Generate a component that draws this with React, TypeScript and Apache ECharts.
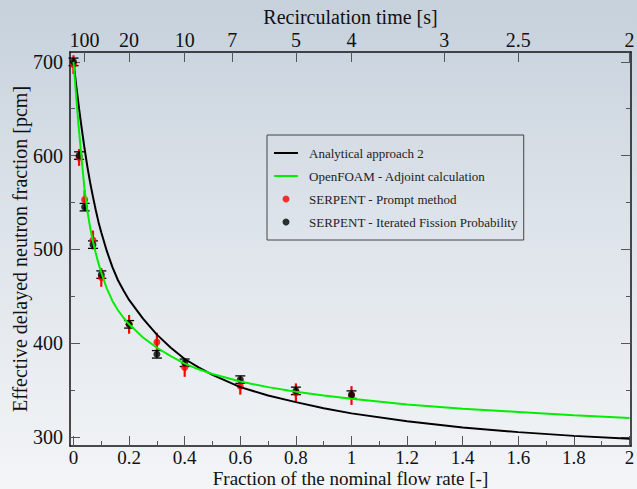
import React, { useEffect, useRef } from 'react';
import * as echarts from 'echarts';

const FONT = 'Liberation Serif, Times New Roman, serif';

// Monte Carlo points (fraction of nominal flow rate)
const fractions = [0, 0.02, 0.04, 0.07, 0.1, 0.2, 0.3, 0.4, 0.6, 0.8, 1.0];
const promptBeta = [697, 598, 553, 510, 470, 420, 401, 374, 354, 347, 344];
const promptErr = [10, 9, 10, 10, 10, 10, 10, 10, 9, 10, 10];
const ifpBeta = [700, 600, 545, 505, 473, 420, 388, 379, 361, 349, 345];
const ifpErr = [4, 4, 4, 4, 4, 4, 4, 4, 4, 4, 4];

// Analytical approach 2 (black curve)
const analyticX = [0, 0.01, 0.02, 0.03, 0.04, 0.05, 0.06, 0.07, 0.08, 0.09, 0.1, 0.12, 0.14, 0.16, 0.18, 0.2, 0.25, 0.3, 0.35, 0.4, 0.45, 0.5, 0.6, 0.7, 0.8, 0.9, 1.0, 1.2, 1.4, 1.6, 1.8, 2.0];
const analyticY = [700, 674, 650, 628, 607, 588, 571, 556, 542, 529, 518, 498, 481, 467, 456, 446, 426, 409, 395, 383, 374, 366, 353, 344, 337, 330.5, 325, 316.5, 310, 305, 301, 298];

// OpenFOAM adjoint (green curve)
const foamX = [0, 0.01, 0.02, 0.03, 0.04, 0.05, 0.06, 0.07, 0.08, 0.09, 0.1, 0.12, 0.14, 0.16, 0.18, 0.2, 0.25, 0.3, 0.35, 0.4, 0.45, 0.5, 0.6, 0.7, 0.8, 0.9, 1.0, 1.2, 1.4, 1.6, 1.8, 2.0];
const foamY = [700, 662, 626, 594, 563, 541, 523, 508, 496, 485, 475, 458, 445, 435, 427, 420, 406, 395, 386, 378, 372, 367, 359, 353, 348, 344, 340.5, 334.5, 330, 326.5, 323, 320];

// Axis ticks
const xMajorTicks = [0, 0.2, 0.4, 0.6, 0.8, 1, 1.2, 1.4, 1.6, 1.8, 2];
const xMajorLabels = ['0', '0.2', '0.4', '0.6', '0.8', '1', '1.2', '1.4', '1.6', '1.8', '2'];
const xMinorTicks = [0.1, 0.3, 0.5, 0.7, 0.9, 1.1, 1.3, 1.5, 1.7, 1.9];
const yMajorTicks = [300, 400, 500, 600, 700];
const yMinorTicks = [350, 450, 550, 650];
const recircTimes = [100, 20, 10, 7, 5, 4, 3, 2.5, 2];
const recircLabels = ['100', '20', '10', '7', '5', '4', '3', '2.5', '2'];
const recircConst = 4; // fraction = 4 s / recirculation time

const X_MIN = -0.0126, X_MAX = 2.0054, Y_MIN = 290.2, Y_MAX = 710.5;

export default function App() {
  const ref = useRef<HTMLDivElement>(null);
  useEffect(() => {
    const chart = echarts.init(ref.current!, null, { renderer: 'svg' });
    const topPos = recircTimes.map((t) => recircConst / t);
    const tickLine = { color: '#555', width: 1 };
    const frame = { color: '#111', width: 1.5 };
    const labelStyle = { fontSize: 20, lineHeight: 16, fontFamily: FONT, color: '#111' };
    const bottomLabelStyle = { fontSize: 19, lineHeight: 16, fontFamily: FONT, color: '#111' };
    const nameStyle = { fontSize: 20, lineHeight: 18, fontFamily: FONT, color: '#111' };
    const bottomNameStyle = { fontSize: 19, lineHeight: 18, fontFamily: FONT, color: '#111' };

    const errRender = (color: string, width: number, cap: number) => (params: any, api: any) => {
      const x = api.value(0);
      const lo = api.coord([x, api.value(1)]);
      const hi = api.coord([x, api.value(2)]);
      const children: any[] = [
        { type: 'line', shape: { x1: lo[0], y1: lo[1], x2: hi[0], y2: hi[1] }, style: { stroke: color, lineWidth: width } },
      ];
      if (cap > 0) {
        children.push({ type: 'line', shape: { x1: hi[0] - cap, y1: hi[1], x2: hi[0] + cap, y2: hi[1] }, style: { stroke: color, lineWidth: 1.3 } });
        children.push({ type: 'line', shape: { x1: lo[0] - cap, y1: lo[1], x2: lo[0] + cap, y2: lo[1] }, style: { stroke: color, lineWidth: 1.3 } });
      }
      return { type: 'group', children };
    };

    const fmtX = (v: number) => {
      const i = xMajorTicks.findIndex((t) => Math.abs(t - v) < 1e-6);
      return i >= 0 ? xMajorLabels[i] : '';
    };
    const fmtTop = (v: number) => {
      const i = topPos.findIndex((t) => Math.abs(t - v) < 1e-6);
      return i >= 0 ? recircLabels[i] : '';
    };

    const option: any = {
      animation: false,
      backgroundColor: 'transparent',
      textStyle: { fontFamily: FONT },
      grid: { left: 70, right: 6, top: 52, bottom: 43, containLabel: false, outerBoundsMode: 'none' },
      legend: {
        left: 267,
        top: 135,
        orient: 'vertical',
        padding: [11, 6, 11, 6],
        borderColor: '#444',
        borderWidth: 1,
        itemWidth: 24,
        itemHeight: 7,
        itemGap: 9,
        textStyle: { fontSize: 13, fontFamily: FONT, color: '#222', lineHeight: 14, padding: [0, 0, 0, 6] },
        data: [
          { name: 'Analytical approach 2', itemStyle: { opacity: 0 } },
          { name: 'OpenFOAM - Adjoint calculation', itemStyle: { opacity: 0 } },
          { name: 'SERPENT - Prompt method' },
          { name: 'SERPENT - Iterated Fission Probability' },
        ],
      },
      xAxis: [
        {
          type: 'value', min: X_MIN, max: X_MAX, position: 'bottom',
          splitLine: { show: false },
          axisLine: { show: true, onZero: false, lineStyle: frame },
          axisTick: { show: true, inside: true, length: 10, customValues: xMajorTicks, lineStyle: tickLine },
          axisLabel: { customValues: xMajorTicks, margin: 3, formatter: fmtX, ...bottomLabelStyle },
          name: 'Fraction of the nominal flow rate [-]', nameLocation: 'middle', nameGap: 23.5,
          nameMoveOverlap: false,
          nameTextStyle: bottomNameStyle,
        },
        {
          type: 'value', min: X_MIN, max: X_MAX, position: 'bottom',
          splitLine: { show: false },
          axisLine: { show: false, onZero: false },
          axisTick: { show: true, inside: true, length: 5, customValues: xMinorTicks, lineStyle: tickLine },
          axisLabel: { show: false },
        },
        {
          type: 'value', min: X_MIN, max: X_MAX, position: 'top',
          splitLine: { show: false },
          axisLine: { show: true, onZero: false, lineStyle: frame },
          axisTick: { show: true, inside: true, length: 10, customValues: topPos, lineStyle: tickLine },
          axisLabel: { customValues: topPos, margin: 4, formatter: fmtTop, ...labelStyle },
          name: 'Recirculation time [s]', nameLocation: 'middle', nameGap: 26,
          nameMoveOverlap: false,
          nameTextStyle: nameStyle,
        },
      ],
      yAxis: [
        {
          type: 'value', min: Y_MIN, max: Y_MAX, position: 'left',
          splitLine: { show: false },
          axisLine: { show: true, onZero: false, lineStyle: frame },
          axisTick: { show: true, inside: true, length: 10, customValues: yMajorTicks, lineStyle: tickLine },
          axisLabel: { customValues: yMajorTicks, margin: 7, ...labelStyle },
          name: 'Effective delayed neutron fraction [pcm]', nameLocation: 'middle', nameGap: 41,
          nameMoveOverlap: false,
          nameTextStyle: nameStyle,
        },
        {
          type: 'value', min: Y_MIN, max: Y_MAX, position: 'left',
          splitLine: { show: false },
          axisLine: { show: false, onZero: false },
          axisTick: { show: true, inside: true, length: 5, customValues: yMinorTicks, lineStyle: tickLine },
          axisLabel: { show: false },
        },
        {
          type: 'value', min: Y_MIN, max: Y_MAX, position: 'right',
          splitLine: { show: false },
          axisLine: { show: true, onZero: false, lineStyle: frame },
          axisTick: { show: true, inside: true, length: 10, customValues: yMajorTicks, lineStyle: tickLine },
          axisLabel: { show: false },
        },
        {
          type: 'value', min: Y_MIN, max: Y_MAX, position: 'right',
          splitLine: { show: false },
          axisLine: { show: false, onZero: false },
          axisTick: { show: true, inside: true, length: 5, customValues: yMinorTicks, lineStyle: tickLine },
          axisLabel: { show: false },
        },
      ],
      series: [
        {
          name: 'Analytical approach 2', type: 'line', symbol: 'none', smooth: false,
          lineStyle: { color: '#000', width: 2 }, itemStyle: { color: '#000' },
          data: analyticX.map((x, i) => [x, analyticY[i]]),
        },
        {
          name: 'OpenFOAM - Adjoint calculation', type: 'line', symbol: 'none', smooth: false,
          lineStyle: { color: '#00ee00', width: 2 }, itemStyle: { color: '#00ee00' },
          data: foamX.map((x, i) => [x, foamY[i]]),
        },
        {
          name: 'prompt-err', type: 'custom', renderItem: errRender('#ff0000', 2.2, 0),
          encode: { x: 0, y: [1, 2] },
          data: fractions.map((x, i) => [x, promptBeta[i] - promptErr[i], promptBeta[i] + promptErr[i]]),
        },
        {
          name: 'SERPENT - Prompt method', type: 'scatter', symbol: 'circle', symbolSize: 7,
          itemStyle: { color: '#ff0000' },
          data: fractions.map((x, i) => [x, promptBeta[i]]),
        },
        {
          name: 'ifp-err', type: 'custom', renderItem: errRender('#000', 1.3, 5),
          encode: { x: 0, y: [1, 2] },
          data: fractions.map((x, i) => [x, ifpBeta[i] - ifpErr[i], ifpBeta[i] + ifpErr[i]]),
        },
        {
          name: 'SERPENT - Iterated Fission Probability', type: 'scatter', symbol: 'circle', symbolSize: 7,
          itemStyle: { color: '#000' },
          data: fractions.map((x, i) => [x, ifpBeta[i]]),
        },
      ],
    };
    chart.setOption(option);
    return () => chart.dispose();
  }, []);
  return (
    <div
      ref={ref}
      style={{
        position: 'fixed', left: 0, top: 0, width: 637, height: 489,
        background: 'linear-gradient(to bottom, #c6d1dc 0%, #dde3ea 45%, #f3f5f7 100%)',
      }}
    />
  );
}
